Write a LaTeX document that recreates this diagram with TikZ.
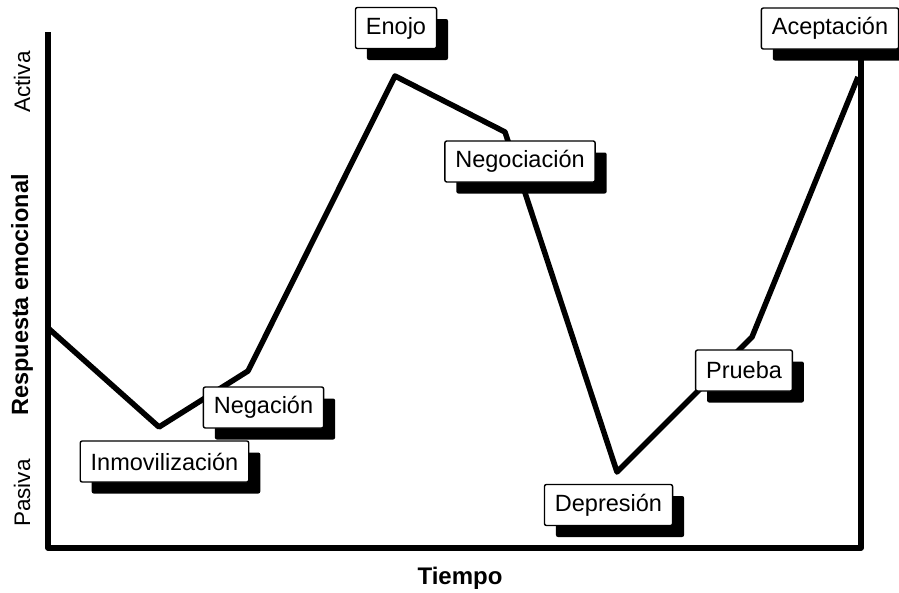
\documentclass[tikz,border=0pt]{standalone}
\usepackage{fontspec}
\setmainfont{Liberation Sans}
\usetikzlibrary{shadows}
\tikzset{
  etapa/.style={draw, line width=1.4pt, fill=white, rounded corners=2pt,
    inner xsep=10.5pt, minimum height=41pt, font=\fontsize{23.5}{28}\selectfont,
    drop shadow={shadow xshift=11.5pt, shadow yshift=-11.5pt, fill=black, opacity=1}},
  eje/.style={font=\fontsize{22.5}{27}\selectfont},
  curva/.style={line width=5.5pt, line join=round}
}
\begin{document}
\begin{tikzpicture}[x=1pt, y=-1pt]
  \useasboundingbox (0,0) rectangle (899,592);
  % ejes
  \coordinate (arriba) at (48,32);
  \coordinate (origen) at (48,548);
  \coordinate (derecha) at (861,548);
  \coordinate (tope) at (861,50);
  \draw[curva] (arriba) -- (origen) -- (derecha) -- (tope);
  % etapas
  \coordinate (p0) at (48,328);
  \coordinate (p1) at (159,427);
  \coordinate (p2) at (248,371);
  \coordinate (p3) at (395,76);
  \coordinate (p4) at (505,132);
  \coordinate (p5) at (617,472);
  \coordinate (p6) at (752,337);
  \coordinate (p7) at (858,77);
  \draw[curva] (p0) -- (p1) -- (p2) -- (p3) -- (p4) -- (p5) -- (p6) -- (p7);
  \node[etapa] (inmov) at (164.5,461.5) {Inmovilización};
  \node[etapa] (negacion) at (263.5,407.5) {Negación};
  \node[etapa] (enojo) at (396,28) {Enojo};
  \node[etapa] (negoc) at (520,161.5) {Negociación};
  \node[etapa] (depre) at (608.5,505) {Depresión};
  \node[etapa] (prueba) at (744,370.5) {Prueba};
  \node[etapa] (acept) at (830,28.5) {Aceptación};
  % rotulos
  \node[eje, rotate=90] (activa) at (22,82) {Activa};
  \node[eje, rotate=90, font=\fontsize{23.5}{28}\selectfont\bfseries] (respuesta) at (22,295) {Respuesta emocional};
  \node[eje, rotate=90] (pasiva) at (22,493) {Pasiva};
  \node[eje, font=\fontsize{24}{28}\selectfont\bfseries] (tiempo) at (460,578) {Tiempo};
\end{tikzpicture}
\end{document}
